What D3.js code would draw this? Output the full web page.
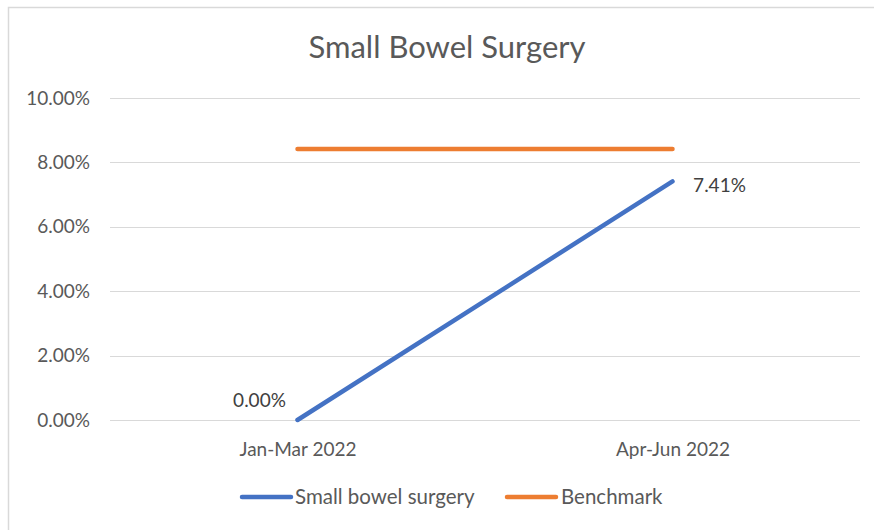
<!DOCTYPE html>
<html>
<head>
<meta charset="utf-8">
<script src="https://cdn.jsdelivr.net/npm/d3@7"></script>
<style>
  html, body { margin: 0; padding: 0; background: #ffffff; }
  svg { display: block; }
</style>
</head>
<body>
<svg id="chart" width="874" height="530"></svg>
<script>
// Chart data
const categories = ["Jan-Mar 2022", "Apr-Jun 2022"];
const surgeryRates = [0.0, 7.41];
const benchmarkRates = [8.42, 8.42];
const yTicks = [0, 2, 4, 6, 8, 10];
const seriesNames = ["Small bowel surgery", "Benchmark"];
const seriesColors = ["#4472C4", "#ED7D31"];

const svg = d3.select("#chart");
const W = 874, H = 530;
const font = "Lato, 'Open Sans', sans-serif";
const textColor = "#595959";
const labelSize = 19;

// Chart frame
svg.append("rect")
  .attr("x", 8.5).attr("y", 7.5)
  .attr("width", W + 20).attr("height", H + 20)
  .attr("fill", "#ffffff")
  .attr("stroke", "#d9d9d9").attr("stroke-width", 1.5);

const plot = { left: 110, right: 860, top: 98, bottom: 420 };

const x = d3.scalePoint()
  .domain(categories)
  .range([plot.left, plot.right])
  .padding(0.5);

const y = d3.scaleLinear()
  .domain([0, 10])
  .range([plot.bottom, plot.top]);

// Gridlines
svg.append("g")
  .selectAll("line")
  .data(yTicks)
  .join("line")
  .attr("x1", plot.left).attr("x2", plot.right)
  .attr("y1", d => Math.round(y(d)) + 0.5)
  .attr("y2", d => Math.round(y(d)) + 0.5)
  .attr("stroke", "#d9d9d9").attr("stroke-width", 1);

// Y axis labels
const yAxis = d3.axisLeft(y)
  .tickValues(yTicks)
  .tickFormat(d => d.toFixed(2) + "%")
  .tickSize(0)
  .tickPadding(0);
const gy = svg.append("g")
  .attr("transform", `translate(${plot.left - 20},0)`)
  .call(yAxis);
gy.select(".domain").remove();
gy.selectAll("text")
  .attr("font-family", font)
  .attr("font-size", labelSize)
  .attr("fill", textColor);

// X axis labels
const xAxis = d3.axisBottom(x).tickSize(0).tickPadding(0);
const gx = svg.append("g")
  .attr("transform", `translate(0,${plot.bottom + 22})`)
  .call(xAxis);
gx.select(".domain").remove();
gx.selectAll("text")
  .attr("font-family", font)
  .attr("font-size", labelSize)
  .attr("fill", textColor);

// Title
svg.append("text")
  .attr("x", 447).attr("y", 58)
  .attr("text-anchor", "middle")
  .attr("font-family", font)
  .attr("font-size", 31)
  .attr("fill", textColor)
  .text("Small Bowel Surgery");

const line = d3.line()
  .x((d, i) => x(categories[i]))
  .y(d => y(d));

// Benchmark line
svg.append("path")
  .datum(benchmarkRates)
  .attr("d", line)
  .attr("fill", "none")
  .attr("stroke", seriesColors[1])
  .attr("stroke-width", 4.5)
  .attr("stroke-linecap", "round");

// Surgery series line
svg.append("path")
  .datum(surgeryRates)
  .attr("d", line)
  .attr("fill", "none")
  .attr("stroke", seriesColors[0])
  .attr("stroke-width", 4.5)
  .attr("stroke-linecap", "round");

// Data labels
const labelOffsets = [{ dx: -38, dy: -13 }, { dx: 47, dy: 10.5 }];
svg.append("g")
  .selectAll("text")
  .data(surgeryRates)
  .join("text")
  .attr("x", (d, i) => x(categories[i]) + labelOffsets[i].dx)
  .attr("y", (d, i) => y(d) + labelOffsets[i].dy)
  .attr("text-anchor", "middle")
  .attr("font-family", font)
  .attr("font-size", labelSize)
  .attr("fill", "#404040")
  .text(d => d.toFixed(2) + "%");

// Legend
const legendItems = [
  { name: seriesNames[0], color: seriesColors[0], x: 242, gap: 53 },
  { name: seriesNames[1], color: seriesColors[1], x: 507, gap: 54 }
];
const lg = svg.append("g").selectAll("g")
  .data(legendItems)
  .join("g")
  .attr("transform", d => `translate(${d.x},497)`);
lg.append("line")
  .attr("x1", 0).attr("x2", 49)
  .attr("stroke", d => d.color)
  .attr("stroke-width", 4.5)
  .attr("stroke-linecap", "round");
lg.append("text")
  .attr("x", d => d.gap).attr("y", 6.5)
  .attr("font-family", font)
  .attr("font-size", 20.5)
  .attr("fill", textColor)
  .text(d => d.name);
</script>
</body>
</html>
